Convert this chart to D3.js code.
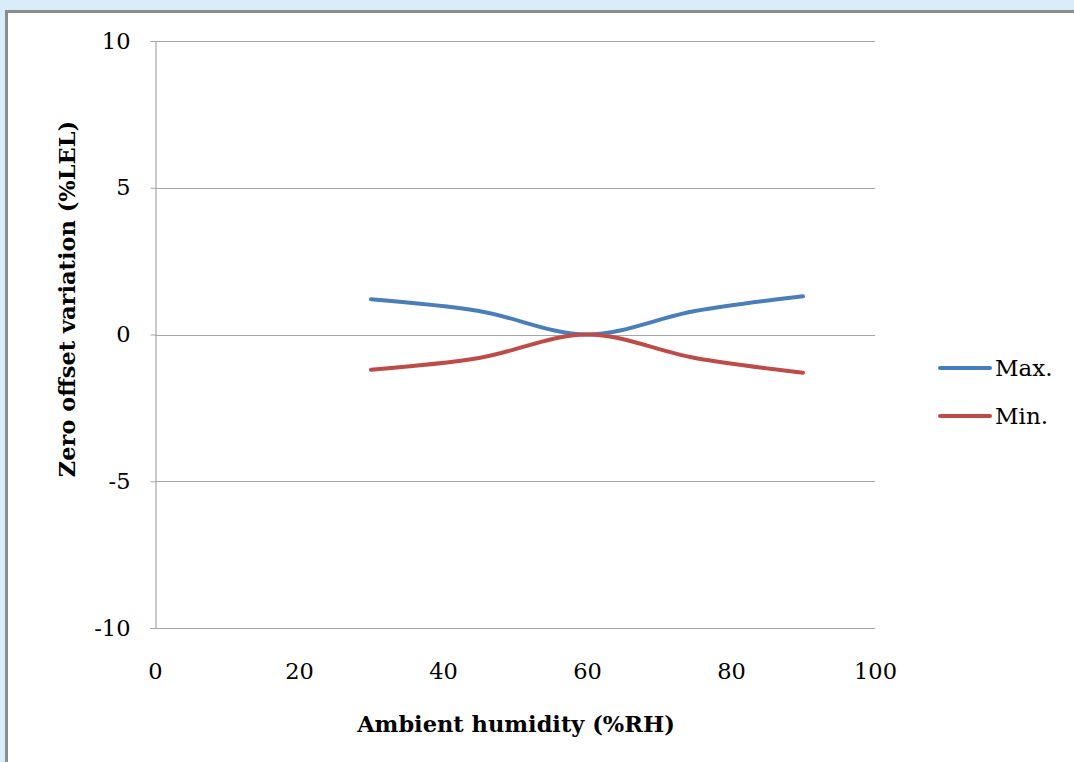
<!DOCTYPE html>
<html>
<head>
<meta charset="utf-8">
<script src="https://cdn.jsdelivr.net/npm/d3@7"></script>
<style>
  html, body { margin: 0; padding: 0; background: #d9ecf9; }
  svg { display: block; }
  text { font-family: "DejaVu Serif", "Liberation Serif", serif; fill: #000; }
</style>
</head>
<body>
<svg id="chart" width="1074" height="762"></svg>
<script>
// humidity points (%RH) and the two series (%LEL)
const humidity = [30, 45, 60, 75, 90];
const maxValues = [1.2, 0.8, 0, 0.8, 1.3];
const minValues = [-1.2, -0.8, 0, -0.8, -1.3];
const seriesNames = ["Max.", "Min."];
const seriesColors = ["#4a7ebb", "#be4b48"];
const xTicks = [0, 20, 40, 60, 80, 100];
const yTicks = [-10, -5, 0, 5, 10];

const svg = d3.select("#chart");

// chart frame
svg.append("rect")
  .attr("x", 6.5).attr("y", 11.5)
  .attr("width", 1100).attr("height", 800)
  .attr("fill", "#fff")
  .attr("stroke", "#8c8c8c")
  .attr("stroke-width", 3);

const margin = { top: 41, left: 155 };
const width = 720, height = 587;

const x = d3.scaleLinear().domain([0, 100]).range([margin.left, margin.left + width]);
const y = d3.scaleLinear().domain([-10, 10]).range([margin.top + height, margin.top]);

const g = svg.append("g");

// gridlines
g.selectAll(".grid")
  .data(yTicks)
  .enter().append("line")
  .attr("class", "grid")
  .attr("x1", x(0)).attr("x2", x(100))
  .attr("y1", d => Math.round(y(d)) + 0.5)
  .attr("y2", d => Math.round(y(d)) + 0.5)
  .attr("stroke", "#a6a6a6")
  .attr("stroke-width", 1.2);

// left axis
const yAxis = d3.axisLeft(y).tickValues(yTicks).tickSize(5).tickPadding(20)
  .tickFormat(d => d < 0 ? "-" + Math.abs(d) : d);
g.append("g")
  .attr("transform", "translate(" + (margin.left + 0.5) + ",0)")
  .call(yAxis)
  .call(a => a.select(".domain").attr("stroke", "#a6a6a6").attr("stroke-width", 1.2))
  .call(a => a.selectAll(".tick line").attr("stroke", "#a6a6a6"))
  .call(a => a.selectAll("text").style("font-size", "22.5px")
    .style("font-family", "'DejaVu Serif', serif").attr("fill", "#000"));

// bottom tick labels
const xAxis = d3.axisBottom(x).tickValues(xTicks).tickSize(0).tickPadding(35);
g.append("g")
  .attr("transform", "translate(0," + (margin.top + height) + ")")
  .call(xAxis)
  .call(a => a.select(".domain").remove())
  .call(a => a.selectAll("text").style("font-size", "22.5px")
    .style("font-family", "'DejaVu Serif', serif").attr("fill", "#000"));

// series lines
const line = d3.line()
  .x(d => x(d[0]))
  .y(d => y(d[1]))
  .curve(d3.curveCardinal.tension(0));

[maxValues, minValues].forEach((vals, i) => {
  g.append("path")
    .datum(humidity.map((h, j) => [h, vals[j]]))
    .attr("fill", "none")
    .attr("stroke", seriesColors[i])
    .attr("stroke-width", 4)
    .attr("stroke-linecap", "round")
    .attr("d", line);
});

// axis titles
svg.append("text")
  .attr("x", 516).attr("y", 732)
  .attr("text-anchor", "middle")
  .style("font-size", "22.5px").style("font-weight", "bold")
  .text("Ambient humidity (%RH)");

svg.append("text")
  .attr("transform", "translate(75,299) rotate(-90)")
  .attr("text-anchor", "middle")
  .style("font-size", "22.5px").style("font-weight", "bold")
  .text("Zero offset variation (%LEL)");

// legend
const legend = svg.append("g");
seriesNames.forEach((name, i) => {
  const ly = 368 + i * 48;
  legend.append("line")
    .attr("x1", 940).attr("x2", 990)
    .attr("y1", ly).attr("y2", ly)
    .attr("stroke", seriesColors[i])
    .attr("stroke-width", 4)
    .attr("stroke-linecap", "round");
  legend.append("text")
    .attr("x", 995).attr("y", ly + 8)
    .style("font-size", "23px")
    .text(name);
});
</script>
</body>
</html>
